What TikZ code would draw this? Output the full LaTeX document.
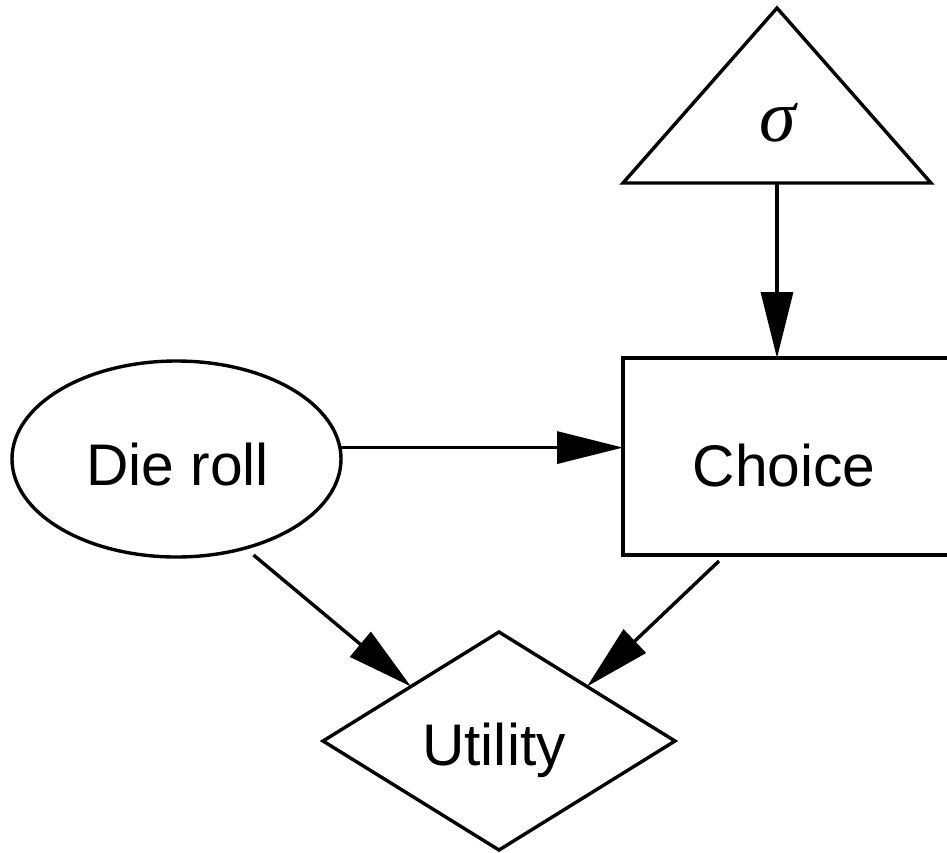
\documentclass[tikz,border=0pt]{standalone}
\usepackage{fontspec}
\setmainfont{Liberation Sans}
\newfontfamily\greekserif{Liberation Serif}
\usetikzlibrary{shapes.geometric,arrows.meta}
\begin{document}
\begin{tikzpicture}[x=1pt,y=-1pt,line width=3.4pt,
  shapebox/.style={draw,inner sep=0pt,outer sep=0pt},
  txt/.style={font=\fontsize{58.7}{60}\selectfont,anchor=base,inner sep=0pt},
  arr/.style={-{Triangle[length=66pt,width=32pt]}}]
\useasboundingbox (0,0) rectangle (947,852);
\clip (0,0) rectangle (947,852);
% decision diagram nodes
\node[shapebox,isosceles triangle,isosceles triangle stretches,shape border rotate=90,
      minimum width=308pt,minimum height=175pt,anchor=apex] (prior) at (777,8) {};
\node[shapebox,rectangle,minimum width=340pt,minimum height=197pt,anchor=north west] (choice) at (623,358) {};
\node[shapebox,ellipse,minimum width=329pt,minimum height=196pt] (die) at (176.5,459) {};
\node[shapebox,diamond,minimum width=352pt,minimum height=218pt] (util) at (499,741) {};
% labels
\node[txt] (dietxt) at (177.5,485) {Die roll};
\node[txt] (choicetxt) at (784,486) {Choice};
\node[txt] (utiltxt) at (494,765) {Utility};
\node[txt,font=\greekserif\itshape\fontsize{74}{76}\selectfont] (sigtxt) at (778,141) {σ};
% influences
\draw[arr] (prior.south) -- (choice.north -| prior.south);
\draw[arr] (die.4.5) -- (die.4.5 -| choice.west);
\draw[arr] ([xshift=77pt,yshift=-96pt]die.center) -- (util.north west);
\draw[arr] ([xshift=96pt,yshift=-6pt]choice.south west) -- (util.north east);
\end{tikzpicture}
\end{document}
